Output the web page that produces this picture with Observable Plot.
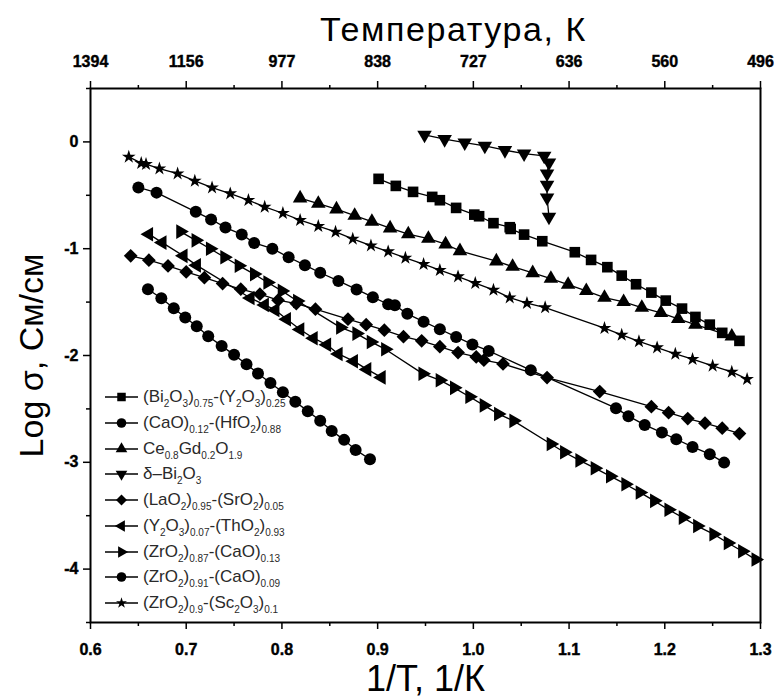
<!DOCTYPE html>
<html><head><meta charset="utf-8">
<script src="https://cdn.jsdelivr.net/npm/d3@7"></script>
<script src="https://cdn.jsdelivr.net/npm/@observablehq/plot@0.6"></script>
<style>
body{margin:0;background:#fff;}
#wrap{position:relative;width:777px;height:699px;font-family:"Liberation Sans",Arial,sans-serif;}
#legend{position:absolute;left:0;top:0;}
.row{position:absolute;left:100px;height:24px;display:flex;align-items:center;white-space:nowrap;color:#2a2a2a;font-size:17px;}
.row sub{font-size:10px;vertical-align:-5px;line-height:0;}
.row svg{margin-right:3px;}
</style></head>
<body><div id="wrap"><div id="legend"></div></div>
<script>
// ---- data ----
const biY_x = [0.901,0.919,0.937,0.957,0.965,0.982,1.001,1.006,1.021,1.038,1.039,1.053,1.072,1.106,1.123,1.140,1.155,1.170,1.186,1.201,1.218,1.232,1.247,1.260,1.278];
const biY_y = [-0.346,-0.412,-0.468,-0.515,-0.546,-0.618,-0.681,-0.696,-0.761,-0.799,-0.815,-0.868,-0.930,-1.033,-1.105,-1.173,-1.252,-1.333,-1.411,-1.486,-1.561,-1.639,-1.711,-1.788,-1.863];

const caHf_x = [0.660,0.674,0.687,0.699,0.711,0.723,0.737,0.750,0.763,0.775,0.788,0.801,0.814,0.827,0.840,0.852,0.865,0.877,0.892];
const caHf_y = [-1.379,-1.464,-1.557,-1.645,-1.726,-1.819,-1.910,-1.994,-2.081,-2.169,-2.257,-2.344,-2.434,-2.521,-2.612,-2.706,-2.790,-2.884,-2.971];

const ceGd_x = [0.819,0.838,0.857,0.876,0.894,0.913,0.932,0.953,0.971,0.986,1.024,1.041,1.062,1.081,1.099,1.118,1.137,1.157,1.176,1.196,1.214,1.232,1.270];
const ceGd_y = [-0.527,-0.578,-0.630,-0.690,-0.746,-0.808,-0.864,-0.905,-0.958,-1.021,-1.117,-1.168,-1.227,-1.280,-1.336,-1.395,-1.458,-1.498,-1.552,-1.601,-1.657,-1.711,-1.820];

const dBi_x = [0.949,0.970,0.991,1.012,1.033,1.053,1.074,1.079,1.077,1.077,1.077,1.079];
const dBi_y = [0.066,0.025,-0.007,-0.037,-0.078,-0.110,-0.131,-0.194,-0.297,-0.403,-0.522,-0.702];

const laSr_x = [0.642,0.661,0.681,0.700,0.719,0.738,0.757,0.777,0.796,0.815,0.835,0.869,0.888,0.907,0.927,0.946,0.965,0.984,1.003,1.011,1.031,1.077,1.132,1.186,1.204,1.224,1.242,1.260,1.278];
const laSr_y = [-1.067,-1.108,-1.161,-1.217,-1.271,-1.327,-1.379,-1.426,-1.482,-1.514,-1.566,-1.660,-1.711,-1.763,-1.824,-1.863,-1.918,-1.973,-2.013,-2.044,-2.079,-2.207,-2.338,-2.479,-2.535,-2.591,-2.634,-2.681,-2.731];

const yTh_x = [0.661,0.675,0.697,0.711,0.767,0.782,0.793,0.805,0.819,0.833,0.847,0.859,0.875,0.889,0.904];
const yTh_y = [-0.864,-0.943,-1.067,-1.156,-1.461,-1.526,-1.573,-1.660,-1.756,-1.838,-1.899,-1.985,-2.053,-2.130,-2.205];

const zrCa13_x = [0.694,0.710,0.725,0.740,0.755,0.771,0.785,0.800,0.816,0.861,0.878,0.893,0.908,0.947,0.965,0.980,0.996,1.011,1.026,1.042,1.081,1.095,1.111,1.127,1.143,1.159,1.174,1.189,1.204,1.219,1.234,1.251,1.266,1.281,1.295];
const zrCa13_y = [-0.840,-0.922,-1.000,-1.080,-1.159,-1.238,-1.317,-1.395,-1.489,-1.737,-1.795,-1.873,-1.941,-2.170,-2.231,-2.303,-2.386,-2.467,-2.547,-2.612,-2.828,-2.906,-2.982,-3.055,-3.130,-3.205,-3.282,-3.361,-3.444,-3.518,-3.597,-3.673,-3.755,-3.833,-3.911];

const zrCa09_x = [0.650,0.669,0.710,0.726,0.741,0.758,0.771,0.790,0.807,0.824,0.840,0.859,0.878,0.895,0.911,0.918,0.931,0.948,0.965,0.982,0.999,1.016,1.060,1.149,1.162,1.179,1.197,1.212,1.229,1.247,1.262];
const zrCa09_y = [-0.426,-0.475,-0.655,-0.726,-0.802,-0.866,-0.946,-1.000,-1.080,-1.154,-1.225,-1.302,-1.381,-1.454,-1.520,-1.529,-1.610,-1.683,-1.754,-1.826,-1.896,-1.957,-2.137,-2.493,-2.568,-2.650,-2.722,-2.784,-2.856,-2.924,-3.003];

const zrSc_x = [0.640,0.653,0.658,0.672,0.691,0.709,0.727,0.746,0.765,0.782,0.801,0.819,0.838,0.856,0.874,0.893,0.911,0.929,0.948,0.965,0.984,1.002,1.021,1.038,1.056,1.075,1.137,1.155,1.173,1.192,1.211,1.229,1.250,1.270,1.286];
const zrSc_y = [-0.140,-0.199,-0.209,-0.250,-0.297,-0.365,-0.428,-0.484,-0.546,-0.609,-0.668,-0.733,-0.789,-0.843,-0.908,-0.971,-1.027,-1.086,-1.145,-1.201,-1.261,-1.323,-1.386,-1.458,-1.510,-1.551,-1.744,-1.807,-1.868,-1.926,-1.985,-2.035,-2.097,-2.154,-2.222];

const seriesLabels = [
  "(Bi<sub>2</sub>O<sub>3</sub>)<sub>0.75</sub>-(Y<sub>2</sub>O<sub>3</sub>)<sub>0.25</sub>",
  "(CaO)<sub>0.12</sub>-(HfO<sub>2</sub>)<sub>0.88</sub>",
  "Ce<sub>0.8</sub>Gd<sub>0.2</sub>O<sub>1.9</sub>",
  "δ–Bi<sub>2</sub>O<sub>3</sub>",
  "(LaO<sub>2</sub>)<sub>0.95</sub>-(SrO<sub>2</sub>)<sub>0.05</sub>",
  "(Y<sub>2</sub>O<sub>3</sub>)<sub>0.07</sub>-(ThO<sub>2</sub>)<sub>0.93</sub>",
  "(ZrO<sub>2</sub>)<sub>0.87</sub>-(CaO)<sub>0.13</sub>",
  "(ZrO<sub>2</sub>)<sub>0.91</sub>-(CaO)<sub>0.09</sub>",
  "(ZrO<sub>2</sub>)<sub>0.9</sub>-(Sc<sub>2</sub>O<sub>3</sub>)<sub>0.1</sub>"
];

const xTicks = [0.6,0.7,0.8,0.9,1.0,1.1,1.2,1.3];
const xMinorTicks = [0.65,0.75,0.85,0.95,1.05,1.15,1.25];
const tempLabels = ["1394","1156","977","838","727","636","560","496"];
const yTicks = [0,-1,-2,-3,-4];
const yMinorTicks = [0.5,-0.5,-1.5,-2.5,-3.5,-4.5];

// ---- custom triangle symbols ----
const s3 = Math.sqrt(3);
const triDown = {draw(c, size){const y=-Math.sqrt(size/(s3*3)); c.moveTo(0,-y*2); c.lineTo(s3*y,y); c.lineTo(-s3*y,y); c.closePath();}};
const triRight = {draw(c, size){const y=-Math.sqrt(size/(s3*3)); c.moveTo(-2*y,0); c.lineTo(y,-s3*y); c.lineTo(y,s3*y); c.closePath();}};
const triLeft = {draw(c, size){const y=-Math.sqrt(size/(s3*3)); c.moveTo(2*y,0); c.lineTo(-y,-s3*y); c.lineTo(-y,s3*y); c.closePath();}};

const series = [
  {xs: biY_x, ys: biY_y, symbol: d3.symbolSquare, r: 6.0},
  {xs: caHf_x, ys: caHf_y, symbol: d3.symbolCircle, r: 6.0},
  {xs: ceGd_x, ys: ceGd_y, symbol: d3.symbolTriangle, r: 5.4},
  {xs: dBi_x, ys: dBi_y, symbol: triDown, r: 5.4},
  {xs: laSr_x, ys: laSr_y, symbol: d3.symbolDiamond2, r: 6.2},
  {xs: yTh_x, ys: yTh_y, symbol: triLeft, r: 5.4},
  {xs: zrCa13_x, ys: zrCa13_y, symbol: triRight, r: 5.4},
  {xs: zrCa09_x, ys: zrCa09_y, symbol: d3.symbolCircle, r: 6.0},
  {xs: zrSc_x, ys: zrSc_y, symbol: d3.symbolStar, r: 4.3}
];
series.forEach((s,i) => { s.label = seriesLabels[i]; s.rows = s.xs.map((x,j)=>({x, y: s.ys[j], k: i})); });

const marks = [];
series.forEach(s => marks.push(Plot.line(s.rows, {x:"x", y:"y", stroke:"black", strokeWidth:1.3})));
series.forEach(s => marks.push(Plot.dot(s.rows, {x:"x", y:"y", symbol: s.symbol, r: s.r, fill:"black", stroke:"none"})));

const fmtTemp = d => tempLabels[xTicks.findIndex(t => Math.abs(t-d) < 1e-9)];

marks.push(
  Plot.frame({stroke:"black", strokeWidth:2}),
  Plot.axisX({anchor:"bottom", ticks:xTicks, tickSize:7, tickPadding:8, strokeWidth:1.5, tickFormat: d => d.toFixed(1), label:null, fontSize:16, fontWeight:"bold"}),
  Plot.axisX({anchor:"bottom", ticks:xMinorTicks, tickSize:4, strokeWidth:1.5, tickFormat: () => "", label:null}),
  Plot.axisX({anchor:"top", ticks:xTicks, tickSize:8, tickPadding:14, strokeWidth:1.5, tickFormat: fmtTemp, label:null, fontSize:16, fontWeight:"bold"}),
  Plot.axisX({anchor:"top", ticks:xMinorTicks, tickSize:4, strokeWidth:1.5, tickFormat: () => "", label:null}),
  Plot.axisY({anchor:"left", ticks:yTicks, tickSize:7, tickPadding:5, strokeWidth:1.5, tickFormat: d => String(d), label:null, fontSize:16, fontWeight:"bold"}),
  Plot.axisY({anchor:"left", ticks:yMinorTicks, tickSize:4, strokeWidth:1.5, tickFormat: () => "", label:null}),
  Plot.text(["Температура, К"], {frameAnchor:"top", textAnchor:"middle", lineAnchor:"middle", dx:28, dy:-58, fontSize:34}),
  Plot.text(["1/T, 1/К"], {frameAnchor:"bottom", textAnchor:"middle", lineAnchor:"middle", dy:57, fontSize:36}),
  Plot.text(["Log σ, См/см"], {frameAnchor:"left", textAnchor:"middle", lineAnchor:"middle", dx:-58, rotate:-90, fontSize:34})
);

const chart = Plot.plot({
  width: 777, height: 699,
  marginLeft: 90, marginRight: 17, marginTop: 88, marginBottom: 77,
  x: {domain:[0.6,1.3]},
  y: {domain:[-4.5,0.5]},
  style: {fontFamily:"Liberation Sans, Arial, sans-serif", color:"black", background:"white", overflow:"visible"},
  marks
});
// heavier numeric tick labels; nudge bottom labels down a little
const bottomLabels = xTicks.map(d => d.toFixed(1));
d3.select(chart).selectAll("text").each(function(){
  const t = (this.textContent || "").trim();
  if (/^-?[0-9.]+$/.test(t)) {
    this.style.fontWeight = "700"; this.style.fontSize = "16px";
    this.style.stroke = "black"; this.style.strokeWidth = "0.4px"; this.style.paintOrder = "stroke";
    if (bottomLabels.includes(t)) {
      const tr = this.getAttribute("transform") || "";
      this.setAttribute("transform", tr + " translate(0,6)");
    }
  }
  if (t === "Температура, К") { this.style.letterSpacing = "1.6px"; }
});
const wrap = document.getElementById("wrap");
wrap.insertBefore(chart, wrap.firstChild);

// ---- legend ----
const legend = d3.select("#legend");
series.forEach((s,i) => {
  const row = legend.append("div").attr("class","row").style("top", (385 + i*25.75) + "px");
  const svg = row.append("svg").attr("width",40).attr("height",20);
  svg.append("line").attr("x1",5).attr("x2",38).attr("y1",10).attr("y2",10).attr("stroke","black").attr("stroke-width",1.5);
  svg.append("path").attr("transform","translate(21.5,10)").attr("d", d3.symbol(s.symbol, Math.PI*Math.pow(s.r*0.8,2))()).attr("fill","black");
  row.append("span").html(s.label);
});
</script></body></html>
